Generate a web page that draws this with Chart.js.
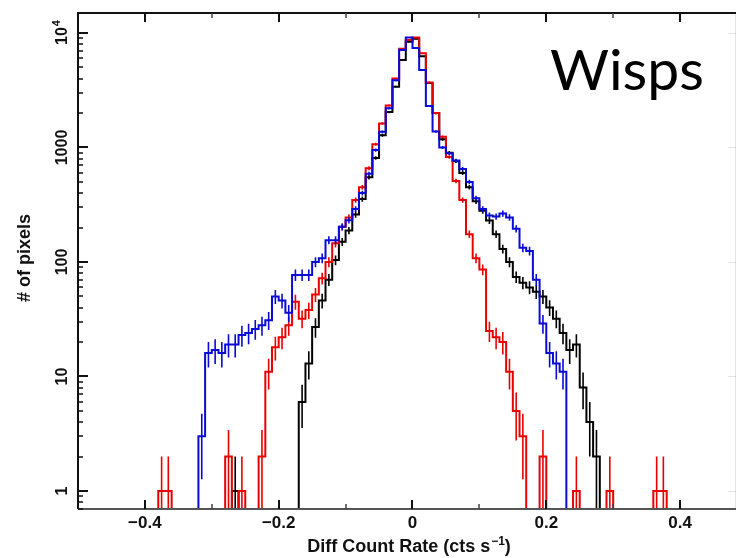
<!DOCTYPE html>
<html lang="en">
<head>
  <meta charset="UTF-8" />
  <title>Wisps - Diff Count Rate</title>
  <script src="https://cdn.jsdelivr.net/npm/chart.js"></script>
  <style>
    html, body { margin: 0; padding: 0; background: #fff; overflow: hidden; }
    #wrap { width: 737px; height: 558px; }
  </style>
</head>
<body>
  <div id="wrap"><canvas id="histChart" width="737" height="558"></canvas></div>

  <script>
    // left edges of the 0.01 wide bins
    const binEdges = [
      -0.38, -0.37, -0.36, -0.35, -0.34, -0.33, -0.32, -0.31, -0.30, -0.29,
      -0.28, -0.27, -0.26, -0.25, -0.24, -0.23, -0.22, -0.21, -0.20, -0.19,
      -0.18, -0.17, -0.16, -0.15, -0.14, -0.13, -0.12, -0.11, -0.10, -0.09,
      -0.08, -0.07, -0.06, -0.05, -0.04, -0.03, -0.02, -0.01, 0.00, 0.01,
      0.02, 0.03, 0.04, 0.05, 0.06, 0.07, 0.08, 0.09, 0.10, 0.11,
      0.12, 0.13, 0.14, 0.15, 0.16, 0.17, 0.18, 0.19, 0.20, 0.21,
      0.22, 0.23, 0.24, 0.25, 0.26, 0.27, 0.28, 0.29, 0.30, 0.31,
      0.32, 0.33, 0.34, 0.35, 0.36, 0.37
    ];
    const binWidth = 0.01;

    const blackCounts = [
      0, 0, 0, 0, 0, 0, 0, 0, 0, 0,
      0, 1, 0, 0, 0, 0, 0, 0, 0, 0,
      0, 6, 13, 27, 46, 70, 104, 150, 188, 260,
      355, 550, 810, 1280, 2040, 3400, 5800, 8400, 8900, 6250,
      3650, 2000, 1180, 900, 760, 600, 450, 340, 280, 230,
      175, 130, 100, 74, 66, 60, 55, 50, 40, 32,
      24, 17, 19, 8, 4, 2, 0, 0, 0, 0,
      0, 0, 0, 0, 0, 0
    ];
    const redCounts = [
      1, 1, 0, 0, 0, 0, 0, 0, 0, 0,
      2, 0, 1, 0, 0, 2, 11, 18, 22, 28,
      45, 32, 38, 52, 72, 100, 146, 203, 245, 347,
      450, 660, 1070, 1620, 2330, 4000, 7300, 8700, 9150, 6650,
      3700, 2000, 1240, 825, 510, 347, 175, 108, 86, 25,
      22, 20, 11, 5, 3, 0, 0, 2, 0, 0,
      0, 0, 1, 0, 0, 0, 0, 1, 0, 0,
      0, 0, 0, 0, 1, 1
    ];
    const blueCounts = [
      0, 0, 0, 0, 0, 0, 3, 16, 17, 16,
      19, 19, 23, 24, 26, 28, 31, 50, 46, 36,
      77, 77, 77, 100, 108, 155, 155, 203, 232, 290,
      400, 590, 950, 1370, 2200, 3860, 7100, 9150, 7400, 4750,
      2300, 1380, 1000, 890, 770, 650, 500, 360, 290, 255,
      250, 265, 245, 195, 133, 125, 70, 29, 16, 13,
      11, 0, 0, 0, 0, 0, 0, 0, 0, 0,
      0, 0, 0, 0, 0, 0
    ];

    const xTickValues = [-0.4, -0.2, 0, 0.2, 0.4];
    const xTickLabels = ['\u22120.4', '\u22120.2', '0', '0.2', '0.4'];
    const xMinorTicks = [-0.3, -0.1, 0.1, 0.3];
    const yTickValues = [1, 10, 100, 1000, 10000];
    const yTickLabels = ['1', '10', '100', '1000', '10|4'];

    const xAxisMin = -0.5, xAxisMax = 0.4836;
    const yAxisMin = 0.696, yAxisMax = 14950;

    // outline of a step histogram, dropping to the axis floor where a bin is empty
    function stepPoints(counts) {
      const pts = [];
      for (let i = 0; i < counts.length; i++) {
        const v = counts[i];
        if (!v) continue;
        const x0 = binEdges[i], x1 = x0 + binWidth;
        const prev = i > 0 ? counts[i - 1] : 0;
        const next = i < counts.length - 1 ? counts[i + 1] : 0;
        if (!prev) pts.push({ x: x0, y: yAxisMin });
        pts.push({ x: x0, y: v }, { x: x1, y: v });
        if (!next) pts.push({ x: x1, y: yAxisMin }, { x: x1, y: null });
      }
      return pts;
    }

    // poisson error bars at bin centres
    function errorPoints(counts) {
      const pts = [];
      counts.forEach((v, i) => {
        if (!v) return;
        const c = binEdges[i] + binWidth / 2;
        const e = Math.sqrt(v);
        pts.push({ x: c, y: Math.max(v - e, yAxisMin) }, { x: c, y: v + e }, { x: c, y: null });
      });
      return pts;
    }

    const series = [
      { counts: blueCounts, color: 'rgb(10,10,215)', order: 0 },
      { counts: redCounts, color: 'rgb(235,0,0)', order: 2 },
      { counts: blackCounts, color: 'rgb(0,0,0)', order: 4 }
    ];

    const datasets = [];
    series.forEach(s => {
      datasets.push({
        data: stepPoints(s.counts), borderColor: s.color, borderWidth: 2,
        pointRadius: 0, spanGaps: false, order: s.order, clip: 0
      });
      datasets.push({
        data: errorPoints(s.counts), borderColor: s.color, borderWidth: 1.6,
        pointRadius: 0, spanGaps: false, order: s.order + 1, clip: 0
      });
    });

    const framePlugin = {
      id: 'frame',
      afterDatasetsDraw(chart) {
        const { ctx, chartArea: a, scales: { x, y } } = chart;
        ctx.save();

        // faint right axis
        ctx.strokeStyle = 'rgba(0,0,0,0.10)';
        ctx.lineWidth = 1;
        ctx.beginPath();
        ctx.moveTo(a.right - 0.5, a.top); ctx.lineTo(a.right - 0.5, a.bottom);
        yTickValues.forEach(v => {
          const py = Math.round(y.getPixelForValue(v)) + 0.5;
          ctx.moveTo(a.right, py); ctx.lineTo(a.right - 8, py);
        });
        ctx.stroke();

        // top and left axis
        ctx.strokeStyle = '#111';
        ctx.lineWidth = 2;
        ctx.beginPath();
        ctx.moveTo(a.right, a.top); ctx.lineTo(a.left, a.top); ctx.lineTo(a.left, a.bottom);
        ctx.stroke();
        // bottom axis
        ctx.strokeStyle = '#555';
        ctx.beginPath();
        ctx.moveTo(a.left, a.bottom); ctx.lineTo(a.right, a.bottom);
        ctx.stroke();

        // x ticks, inward on bottom and top
        ctx.strokeStyle = '#111';
        ctx.lineWidth = 2;
        ctx.beginPath();
        xTickValues.forEach(v => {
          const px = Math.round(x.getPixelForValue(v));
          ctx.moveTo(px, a.bottom); ctx.lineTo(px, a.bottom - 9);
          ctx.moveTo(px, a.top); ctx.lineTo(px, a.top + 9);
        });
        ctx.stroke();
        ctx.lineWidth = 1.5;
        ctx.strokeStyle = '#444';
        ctx.beginPath();
        xMinorTicks.forEach(v => {
          const px = Math.round(x.getPixelForValue(v));
          ctx.moveTo(px, a.bottom); ctx.lineTo(px, a.bottom - 5);
          ctx.moveTo(px, a.top); ctx.lineTo(px, a.top + 5);
        });
        ctx.stroke();

        // y ticks, major and 2..9 minors
        ctx.strokeStyle = '#111';
        ctx.lineWidth = 2;
        ctx.beginPath();
        yTickValues.forEach(v => {
          const py = Math.round(y.getPixelForValue(v));
          ctx.moveTo(a.left, py); ctx.lineTo(a.left + 10, py);
        });
        ctx.stroke();
        ctx.lineWidth = 1.5;
        ctx.beginPath();
        [0.1].concat(yTickValues).forEach(d => {
          for (let m = 2; m <= 9; m++) {
            const v = d * m;
            if (v < yAxisMin || v > yAxisMax) continue;
            const py = Math.round(y.getPixelForValue(v));
            ctx.moveTo(a.left, py); ctx.lineTo(a.left + 5, py);
          }
        });
        ctx.stroke();

        // x tick labels
        ctx.fillStyle = '#111';
        ctx.font = 'bold 17px "Liberation Sans", Arial, sans-serif';
        ctx.textAlign = 'center';
        ctx.textBaseline = 'alphabetic';
        xTickValues.forEach((v, i) => {
          ctx.fillText(xTickLabels[i], x.getPixelForValue(v), 528);
        });

        // y tick labels, rotated
        yTickValues.forEach((v, i) => {
          const py = y.getPixelForValue(v);
          ctx.save();
          ctx.translate(67, py);
          ctx.rotate(-Math.PI / 2);
          const parts = yTickLabels[i].split('|');
          ctx.font = 'bold 16px "Liberation Sans", Arial, sans-serif';
          const w1 = ctx.measureText(parts[0]).width;
          let w2 = 0;
          if (parts[1]) {
            ctx.font = 'bold 11px "Liberation Sans", Arial, sans-serif';
            w2 = ctx.measureText(parts[1]).width;
          }
          ctx.textAlign = 'left';
          ctx.font = 'bold 16px "Liberation Sans", Arial, sans-serif';
          ctx.fillText(parts[0], -(w1 + w2) / 2, 0);
          if (parts[1]) {
            ctx.font = 'bold 11px "Liberation Sans", Arial, sans-serif';
            ctx.fillText(parts[1], -(w1 + w2) / 2 + w1 + 1, -7);
          }
          ctx.restore();
        });

        // axis titles
        ctx.textAlign = 'left';
        const t1 = 'Diff Count Rate (cts s', t2 = '\u22121', t3 = ')';
        ctx.font = 'bold 18px "Liberation Sans", Arial, sans-serif';
        const w1 = ctx.measureText(t1).width, w3 = ctx.measureText(t3).width;
        ctx.font = 'bold 12px "Liberation Sans", Arial, sans-serif';
        const w2 = ctx.measureText(t2).width;
        let tx = 409 - (w1 + w2 + w3 + 1) / 2;
        ctx.font = 'bold 18px "Liberation Sans", Arial, sans-serif';
        ctx.fillText(t1, tx, 552);
        ctx.font = 'bold 12px "Liberation Sans", Arial, sans-serif';
        ctx.fillText(t2, tx + w1 + 1, 545);
        ctx.font = 'bold 18px "Liberation Sans", Arial, sans-serif';
        ctx.fillText(t3, tx + w1 + w2 + 1, 552);

        ctx.save();
        ctx.translate(30, 258);
        ctx.rotate(-Math.PI / 2);
        ctx.textAlign = 'center';
        ctx.fillText('# of pixels', 0, 0);
        ctx.restore();

        // panel name
        ctx.font = '57px Lato, "Liberation Sans", sans-serif';
        ctx.textAlign = 'center';
        ctx.fillStyle = '#000';
        ctx.fillText('Wisps', 627, 90);

        ctx.restore();
      }
    };

    new Chart(document.getElementById('histChart').getContext('2d'), {
      type: 'line',
      data: { datasets },
      options: {
        responsive: false,
        animation: false,
        devicePixelRatio: 1,
        layout: { padding: { left: 78, top: 13, right: 1, bottom: 49 } },
        scales: {
          x: { type: 'linear', min: xAxisMin, max: xAxisMax, display: false },
          y: { type: 'logarithmic', min: yAxisMin, max: yAxisMax, display: false }
        },
        elements: { line: { tension: 0 }, point: { radius: 0 } },
        plugins: { legend: { display: false }, tooltip: { enabled: false } }
      },
      plugins: [framePlugin]
    });
  </script>
</body>
</html>
